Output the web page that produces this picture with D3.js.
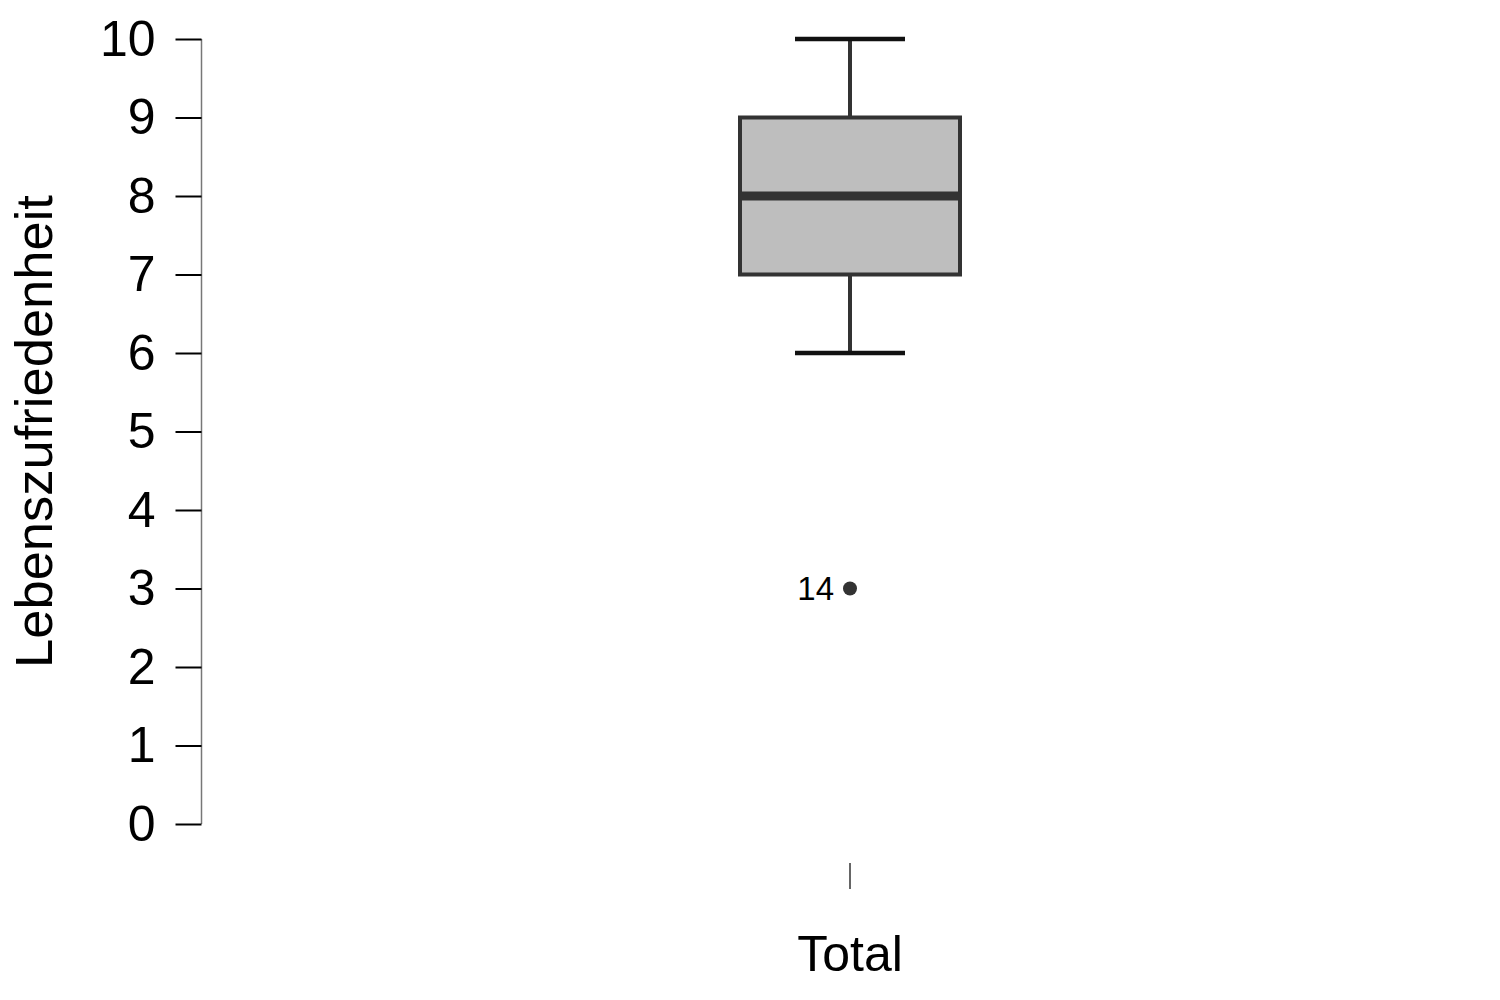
<!DOCTYPE html>
<html>
<head>
<meta charset="utf-8">
<script src="https://cdn.jsdelivr.net/npm/d3@7"></script>
<style>
  html, body { margin: 0; padding: 0; background: #fff; }
  text { font-family: "Liberation Sans", Arial, sans-serif; }
</style>
</head>
<body>
<script>
// ---- data ----
const categories = ["Total"];
const whiskerLow = [6];
const q1 = [7];
const median = [8];
const q3 = [9];
const whiskerHigh = [10];
const outlierValues = [3];
const outlierLabels = ["14"];
const outlierGroup = ["Total"];
const yTicks = [0, 1, 2, 3, 4, 5, 6, 7, 8, 9, 10];
const yTitle = "Lebenszufriedenheit";

// ---- layout ----
const W = 1500, H = 1000;
const svg = d3.select("body").append("svg").attr("width", W).attr("height", H);

const y = d3.scaleLinear().domain([0, 10]).range([824, 39]);
const x = d3.scaleBand().domain(categories).range([201, 1500]).paddingInner(0).paddingOuter(0);
const cx = c => x(c) + x.bandwidth() / 2 - 0.5;
const boxW = 220;

// y axis
const yAxis = d3.axisLeft(y).tickValues(yTicks).tickSize(26).tickPadding(20).tickFormat(d3.format("d"));
const gy = svg.append("g").attr("transform", "translate(201.5,0)").call(yAxis);
gy.select(".domain").attr("stroke", "#777").attr("stroke-width", 1.5).attr("d", `M0,${y(0)}V${y(10)}`);
gy.selectAll(".tick line").attr("stroke", "#000").attr("stroke-width", 2);
gy.selectAll(".tick text").attr("font-size", 50).attr("fill", "#000")
  .attr("font-family", "Liberation Sans, Arial, sans-serif");

// y title
svg.append("text")
  .attr("transform", `translate(52,${(y(0) + y(10)) / 2}) rotate(-90)`)
  .attr("text-anchor", "middle")
  .attr("font-size", 52.5)
  .attr("fill", "#000")
  .text(yTitle);

// x axis (tick + label only)
const xAxis = d3.axisBottom(x).tickSize(26).tickPadding(46);
const gx = svg.append("g").attr("transform", "translate(-0.5,863)").call(xAxis);
gx.select(".domain").remove();
gx.selectAll(".tick line").attr("stroke", "#333").attr("stroke-width", 1.5);
gx.selectAll(".tick text").attr("font-size", 50).attr("fill", "#000")
  .attr("font-family", "Liberation Sans, Arial, sans-serif");

// boxes
const g = svg.append("g");
categories.forEach((c, i) => {
  const xc = cx(c);
  // whiskers
  g.append("line").attr("x1", xc).attr("x2", xc).attr("y1", y(q3[i])).attr("y2", y(whiskerHigh[i]))
    .attr("stroke", "#333").attr("stroke-width", 4);
  g.append("line").attr("x1", xc).attr("x2", xc).attr("y1", y(q1[i])).attr("y2", y(whiskerLow[i]))
    .attr("stroke", "#333").attr("stroke-width", 4);
  // caps
  g.append("line").attr("x1", xc - boxW / 4).attr("x2", xc + boxW / 4)
    .attr("y1", y(whiskerHigh[i])).attr("y2", y(whiskerHigh[i]))
    .attr("stroke", "#111").attr("stroke-width", 4.5);
  g.append("line").attr("x1", xc - boxW / 4).attr("x2", xc + boxW / 4)
    .attr("y1", y(whiskerLow[i])).attr("y2", y(whiskerLow[i]))
    .attr("stroke", "#111").attr("stroke-width", 4.5);
  // box
  g.append("rect").attr("x", xc - boxW / 2).attr("width", boxW)
    .attr("y", y(q3[i])).attr("height", y(q1[i]) - y(q3[i]))
    .attr("fill", "#bebebe").attr("stroke", "#333").attr("stroke-width", 4);
  // median
  g.append("line").attr("x1", xc - boxW / 2).attr("x2", xc + boxW / 2)
    .attr("y1", y(median[i])).attr("y2", y(median[i]))
    .attr("stroke", "#333").attr("stroke-width", 9);
});

// outliers
outlierValues.forEach((v, j) => {
  const xc = cx(outlierGroup[j]);
  g.append("circle").attr("cx", xc).attr("cy", y(v)).attr("r", 7).attr("fill", "#333");
  g.append("text").attr("x", xc - 16).attr("y", y(v)).attr("dy", "0.36em")
    .attr("text-anchor", "end").attr("font-size", 33).attr("fill", "#000")
    .text(outlierLabels[j]);
});
</script>
</body>
</html>
